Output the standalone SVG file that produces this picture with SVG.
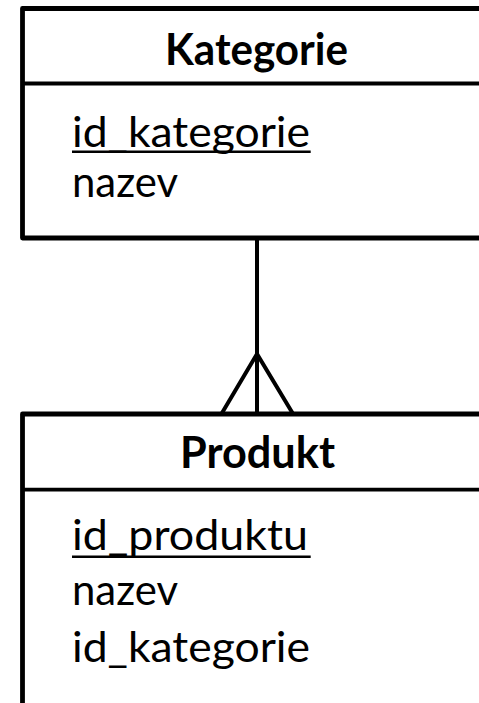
<svg xmlns="http://www.w3.org/2000/svg" width="479" height="703" viewBox="0 0 479 703">
  <style>
    .frame { fill: none; stroke: #000; stroke-width: 4.8; stroke-linejoin: round; }
    .divider { stroke: #000; stroke-width: 3.8; }
    .key { stroke: #000; stroke-width: 2.4; }
    .title { font-family: Lato, "Liberation Sans", sans-serif; font-weight: bold; font-size: 43px; fill: #000; }
    .attr { font-family: Lato, "Liberation Sans", sans-serif; font-size: 43px; fill: #000; }
    .link { fill: none; stroke: #000; stroke-width: 4; stroke-linejoin: miter; }
  </style>
  <rect width="479" height="703" fill="#fff"/>

  <!-- relationship: one Kategorie to many Produkt (crow's foot at Produkt) -->
  <g id="connectors">
    <line class="link" x1="257" y1="238" x2="257" y2="413"/>
    <polyline class="link" points="222,413 257,354 292.5,413"/>
  </g>

  <g id="kategorie">
    <path class="frame" d="M520,8.5 H22.5 V238 H520"/>
    <line class="divider" x1="22.5" y1="83.5" x2="520" y2="83.5"/>
    <text class="title" x="165" y="64.5" textLength="183" lengthAdjust="spacingAndGlyphs">Kategorie</text>
    <text class="attr" x="72" y="147" textLength="238" lengthAdjust="spacingAndGlyphs">id_kategorie</text>
    <line class="key" x1="72" y1="151.7" x2="310.7" y2="151.7"/>
    <text class="attr" x="72" y="196.7" textLength="106" lengthAdjust="spacingAndGlyphs">nazev</text>
  </g>

  <g id="produkt">
    <path class="frame" d="M520,414 H22.5 V720"/>
    <line class="divider" x1="22.5" y1="489.7" x2="520" y2="489.7"/>
    <text class="title" x="180" y="468.3" textLength="155" lengthAdjust="spacingAndGlyphs">Produkt</text>
    <text class="attr" x="72" y="550" textLength="236" lengthAdjust="spacingAndGlyphs">id_produktu</text>
    <line class="key" x1="72" y1="556.7" x2="310.7" y2="556.7"/>
    <text class="attr" x="72" y="605" textLength="106" lengthAdjust="spacingAndGlyphs">nazev</text>
    <text class="attr" x="72" y="661.7" textLength="238" lengthAdjust="spacingAndGlyphs">id_kategorie</text>
  </g>
</svg>
